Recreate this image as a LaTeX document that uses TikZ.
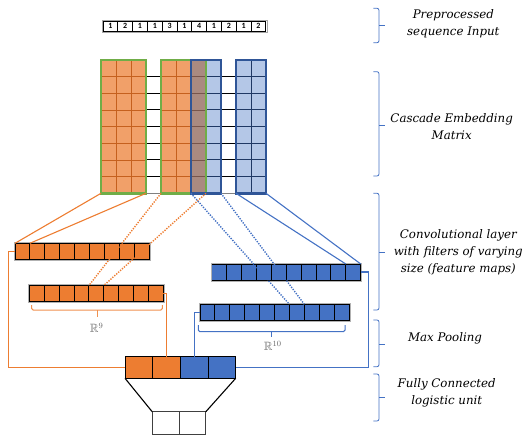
\documentclass[tikz,border=0pt]{standalone}
\usepackage{fontspec}
\usepackage{amssymb}
\newfontfamily\lblfont{DejaVu Serif}
\newfontfamily\tokfont{Carlito}
\definecolor{orgfill}{RGB}{241,160,105}
\definecolor{orgline}{RGB}{197,96,30}
\definecolor{orgmap}{RGB}{237,125,49}
\definecolor{mixfill}{RGB}{170,138,128}
\definecolor{mixline}{RGB}{120,85,75}
\definecolor{bluefill}{RGB}{180,199,231}
\definecolor{blueline}{RGB}{31,56,100}
\definecolor{bluemap}{RGB}{68,114,196}
\definecolor{bluebox}{RGB}{47,85,151}
\definecolor{greenbox}{RGB}{112,173,71}

\begin{document}
\begin{tikzpicture}[x=1pt,y=-1pt,
  tok/.style={draw=black, line width=0.8pt, fill=white, minimum width=14.8pt, minimum height=10pt,
    inner sep=0pt, outer sep=0pt, font=\tokfont\bfseries\fontsize{8}{8}\selectfont},
  mat-o/.style={fill=orgfill, draw=orgline, line width=0.8pt},
  mat-m/.style={fill=mixfill, draw=mixline, line width=0.8pt},
  mat-b/.style={fill=bluefill, draw=blueline, line width=1pt},
  mat-w/.style={draw=none},
  win/.style={draw, line width=2.6pt, inner sep=0pt, outer sep=0pt, minimum height=133.3pt},
  cell/.style={draw=black, line width=0.9pt, minimum width=14.9pt, minimum height=16pt, inner sep=0pt, outer sep=0pt},
  fcell/.style={draw=black, line width=0.9pt, minimum width=27.67pt, minimum height=21.6pt, inner sep=0pt, outer sep=0pt},
  conn/.style={line width=1.1pt},
  dots/.style={line width=1.4pt, dash pattern=on 1.3pt off 1.3pt},
  dimlbl/.style={text=black!60, font=\large},
  lbl/.style={align=center, font=\lblfont\itshape\fontsize{11.8}{17}\selectfont}]
  \useasboundingbox (0,0) rectangle (523,437);
  %% sequence input
  \foreach \t [count=\i] in {1,2,1,1,3,1,4,1,2,1,2}
    \node[tok] (tok-\i) at ({95.6+14.8*\i},26) {\t};
  \draw[gray!70, line width=0.6pt] ([shift={(-1,-1)}]tok-1.north west) rectangle ([shift={(1,1)}]tok-11.south east);
  %% embedding matrix, one column per token
  \foreach \c [count=\i] in {o,o,o,w,o,o,m,b,w,b,b}
    \foreach \r in {0,...,7}
      \draw[mat-\c] ({86+15*\i},{60+16.66*\r}) rectangle ++(15,16.66);
  \foreach \x in {146,221} {
    \foreach \r in {1,...,7}
      \draw[black, line width=1pt] (\x,{60+16.66*\r}) -- ++(15,0);
    \draw[gray, line width=1pt] (\x,193.3) -- ++(15,0); }
  %% filter windows
  \node[win, draw=greenbox, minimum width=45pt] (win-a) at (123.5,126.65) {};
  \node[win, draw=greenbox, minimum width=45pt] (win-b) at (183.5,126.65) {};
  \node[win, draw=bluebox, minimum width=30pt] (win-c) at (206,126.65) {};
  \node[win, draw=bluebox, minimum width=30pt] (win-d) at (251,126.65) {};
  %% feature maps
  \foreach \i in {1,...,9} {
    \node[cell, fill=orgmap] (oa-\i) at ({7.55+14.9*\i},251.3) {};
    \node[cell, fill=orgmap] (ob-\i) at ({21.85+14.9*\i},293.5) {}; }
  \foreach \i in {1,...,10} {
    \node[cell, fill=bluemap] (ba-\i) at ({204.25+14.9*\i},272) {};
    \node[cell, fill=bluemap] (bb-\i) at ({192.55+14.9*\i},312.3) {}; }
  \draw[gray!60, line width=0.6pt] ([shift={(-0.9,-0.9)}]oa-1.north west) rectangle ([shift={(0.9,0.9)}]oa-9.south east);
  \draw[gray!60, line width=0.6pt] ([shift={(-0.9,-0.9)}]ob-1.north west) rectangle ([shift={(0.9,0.9)}]ob-9.south east);
  \draw[gray!60, line width=0.6pt] ([shift={(-0.9,-0.9)}]ba-1.north west) rectangle ([shift={(0.9,0.9)}]ba-10.south east);
  \draw[gray!60, line width=0.6pt] ([shift={(-0.9,-0.9)}]bb-1.north west) rectangle ([shift={(0.9,0.9)}]bb-10.south east);
  %% windows to feature maps
  \draw[conn, orgmap] (win-a.south west) -- (oa-1.north west);
  \draw[conn, orgmap] (win-a.south east) -- (oa-1.north east);
  \draw[dots, orgmap] (win-b.south west) -- (ob-5.north west);
  \draw[dots, orgmap] (win-b.south east) -- (ob-5.north east);
  \draw[conn, bluemap] (win-d.south west) -- (ba-10.north west);
  \draw[conn, bluemap] (win-d.south east) -- (ba-10.north east);
  \draw[dots, bluemap] (win-c.south west) -- (bb-7.north west);
  \draw[dots, bluemap] (win-c.south east) -- (bb-7.north east);
  %% braces under pooled maps
  \draw[orgmap!85, line width=1pt, rounded corners=1.5pt] (31.7,305) |- (97,310) -| (162.3,305);
  \draw[orgmap!85, line width=1pt] (97,310) -- (97,316.7);
  \node[dimlbl] (r9) at (96.7,328) {$\mathbb{R}^9$};
  \draw[bluemap, line width=1pt, rounded corners=1.5pt] (198.3,325) |- (271.7,331.7) -| (345,325);
  \draw[bluemap, line width=1pt] (271.7,331.7) -- (271.7,337.3);
  \node[dimlbl] (r10) at (272.7,346) {$\mathbb{R}^{10}$};
  %% fully connected unit
  \foreach \col [count=\i] in {orgmap,orgmap,bluemap,bluemap}
    \node[fcell, fill=\col] (fc-\i) at ({111.17+27.67*\i},367.5) {};
  \draw[conn, orgmap] (oa-1.west) -- ++(-6.5,0) |- (fc-1.west);
  \draw[conn, orgmap] (ob-9.east) -| (fc-2.north);
  \draw[conn, bluemap] (bb-1.west) -| (fc-3.north);
  \draw[conn, bluemap] (ba-10.east) -- ++(8,0) |- (fc-4.east);
  \node[fcell, fill=white, draw=black!75, minimum width=26.7pt, minimum height=22.3pt] (out-1) at (165.65,423) {};
  \node[fcell, fill=white, draw=black!75, minimum width=26.7pt, minimum height=22.3pt] (out-2) at (192.35,423) {};
  \draw[conn, black] (fc-1.south west) -- (out-1.north west);
  \draw[conn, black] (fc-4.south east) -- (out-2.north east);
  %% right-hand braces and labels
  \foreach \ya/\yb/\ym in {8.3/42.7/25, 71.7/176/125, 193.3/310/252.3, 320/366.7/344, 374/421/397.3} {
    \draw[bluemap, line width=0.8pt, rounded corners=2pt] (373.3,\ya) -| (379,\ym) |- (373.3,\yb);
    \draw[bluemap, line width=0.8pt] (379,\ym) -- (385,\ym); }
  \node[lbl] (lbl-in) at (453.3,24.2) {Preprocessed\\sequence Input};
  \node[lbl] (lbl-emb) at (451.7,126.7) {Cascade Embedding\\Matrix};
  \node[lbl] (lbl-conv) at (458.3,252.3) {Convolutional layer\\with filters of varying\\size (feature maps)};
  \node[lbl] (lbl-pool) at (445,338.3) {Max Pooling};
  \node[lbl] (lbl-fc) at (446.7,393) {Fully Connected\\logistic unit};
\end{tikzpicture}
\end{document}
